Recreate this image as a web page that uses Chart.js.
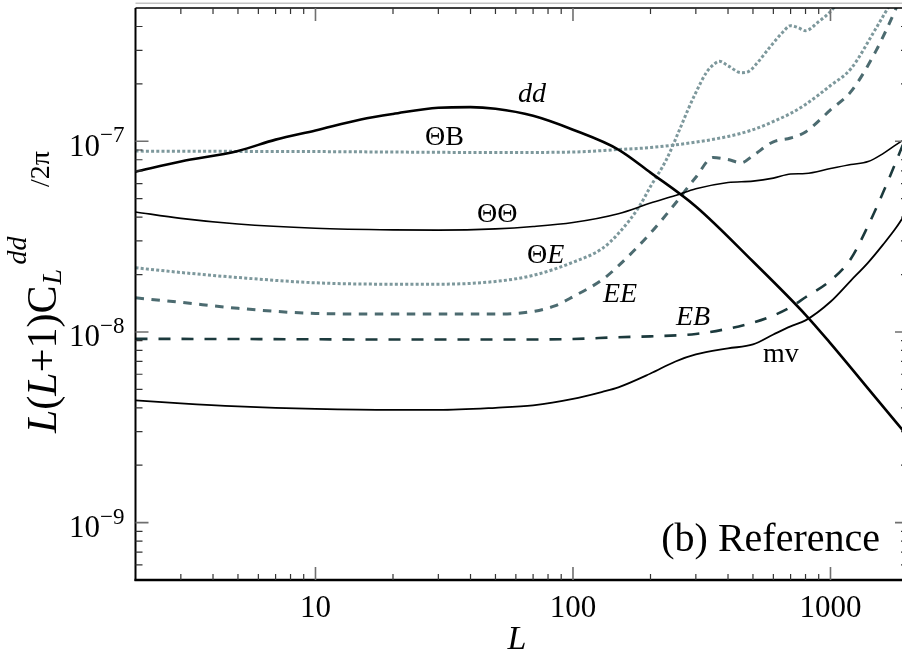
<!DOCTYPE html>
<html>
<head>
<meta charset="utf-8">
<script src="https://cdn.jsdelivr.net/npm/chart.js@4.4.0/dist/chart.umd.min.js"></script>
<style>
html, body { margin: 0; padding: 0; overflow: hidden; background: #fff; }
#wrap { position: relative; width: 910px; height: 651px; }
</style>
</head>
<body>
<div id="wrap"><canvas id="chart"></canvas></div>
<script>
// multipole L and L(L+1)C_L^dd/2pi for each reconstruction
const ddL = [2, 3, 5, 7, 10, 15, 20, 30, 40, 50, 70, 100, 150, 200, 300, 500, 800, 1000, 1500, 2000];
const ddC = [6.93e-8, 7.83e-8, 8.9e-8, 1.02e-7, 1.14e-7, 1.30e-7, 1.39e-7, 1.50e-7, 1.51e-7, 1.48e-7, 1.36e-7, 1.15e-7, 9.05e-8, 6.85e-8, 4.55e-8, 2.34e-8, 1.23e-8, 8.71e-9, 4.51e-9, 2.83e-9];

const tbL = [2, 5, 10, 20, 50, 100, 150, 200, 300, 400, 500, 600, 700, 800, 1000, 1200, 1500, 1700, 2000];
const tbC = [8.88e-8, 8.85e-8, 8.83e-8, 8.78e-8, 8.73e-8, 8.78e-8, 9.05e-8, 9.27e-8, 9.9e-8, 1.06e-7, 1.15e-7, 1.27e-7, 1.40e-7, 1.56e-7, 1.96e-7, 2.40e-7, 3.9e-7, 5.2e-7, 7.5e-7];

const ttL = [2, 3, 5, 10, 20, 30, 50, 70, 100, 150, 200, 250, 300, 400, 500, 600, 700, 800, 1000, 1200, 1400, 1600, 1800, 2000];
const ttC = [4.26e-8, 3.94e-8, 3.68e-8, 3.50e-8, 3.43e-8, 3.42e-8, 3.47e-8, 3.57e-8, 3.75e-8, 4.17e-8, 4.74e-8, 5.19e-8, 5.63e-8, 6.08e-8, 6.18e-8, 6.41e-8, 6.73e-8, 6.77e-8, 7.19e-8, 7.55e-8, 7.83e-8, 8.62e-8, 9.6e-8, 1.05e-7];

const teL = [2, 3, 5, 10, 20, 30, 50, 70, 100, 130, 150, 180, 200, 230, 260, 280, 300, 330, 350, 370, 400, 450, 480, 520, 580, 650, 700, 750, 800, 900, 1000, 1200, 1500, 2000];
const teC = [2.17e-8, 2.05e-8, 1.93e-8, 1.81e-8, 1.78e-8, 1.78e-8, 1.84e-8, 1.98e-8, 2.32e-8, 2.74e-8, 3.28e-8, 4.50e-8, 5.79e-8, 7.96e-8, 1.16e-7, 1.47e-7, 1.80e-7, 2.30e-7, 2.51e-7, 2.63e-7, 2.49e-7, 2.29e-7, 2.32e-7, 2.58e-7, 3.10e-7, 3.71e-7, 4.04e-7, 3.94e-7, 3.80e-7, 4.24e-7, 4.79e-7, 6.5e-7, 9e-7, 1.3e-6];

const eeL = [2, 3, 5, 10, 20, 50, 70, 85, 100, 130, 150, 200, 250, 300, 350, 400, 450, 500, 600, 700, 800, 1000, 1200, 1500, 1800, 2000];
const eeC = [1.51e-8, 1.43e-8, 1.33e-8, 1.25e-8, 1.24e-8, 1.24e-8, 1.28e-8, 1.37e-8, 1.53e-8, 1.88e-8, 2.22e-8, 3.30e-8, 4.73e-8, 6.48e-8, 8.22e-8, 8.02e-8, 7.71e-8, 8.41e-8, 9.94e-8, 1.04e-7, 1.12e-7, 1.46e-7, 1.82e-7, 2.97e-7, 5.0e-7, 7.0e-7];

const ebL = [2, 5, 10, 20, 50, 100, 150, 200, 300, 400, 500, 600, 700, 800, 1000, 1200, 1400, 1600, 1800, 2000];
const ebC = [9.2e-9, 9.18e-9, 9.15e-9, 9.12e-9, 9.12e-9, 9.18e-9, 9.38e-9, 9.48e-9, 9.76e-9, 1.04e-8, 1.12e-8, 1.22e-8, 1.35e-8, 1.52e-8, 1.86e-8, 2.42e-8, 3.61e-8, 5.38e-8, 7.87e-8, 1.12e-7];

const mvL = [2, 3, 5, 10, 20, 30, 50, 70, 100, 130, 150, 200, 250, 300, 400, 500, 600, 700, 800, 1000, 1200, 1400, 1600, 1800, 2000];
const mvC = [4.38e-9, 4.22e-9, 4.07e-9, 3.95e-9, 3.90e-9, 3.90e-9, 4.00e-9, 4.12e-9, 4.45e-9, 4.85e-9, 5.12e-9, 6.05e-9, 7.0e-9, 7.62e-9, 8.2e-9, 8.6e-9, 9.7e-9, 1.07e-8, 1.15e-8, 1.44e-8, 1.86e-8, 2.31e-8, 2.87e-8, 3.53e-8, 4.38e-8];

// axis ticks
const xMajorTicks = [10, 100, 1000];
const xMinorTicks = [3, 4, 5, 6, 7, 8, 9, 20, 30, 40, 50, 60, 70, 80, 90, 200, 300, 400, 500, 600, 700, 800, 900];
const yMajorTicks = [1e-9, 1e-8, 1e-7];
const yTickExponents = ['\u22129', '\u22128', '\u22127'];
const yMinorTicks = [6e-10, 7e-10, 8e-10, 9e-10, 2e-9, 3e-9, 4e-9, 5e-9, 6e-9, 7e-9, 8e-9, 9e-9,
                     2e-8, 3e-8, 4e-8, 5e-8, 6e-8, 7e-8, 8e-8, 9e-8, 2e-7, 3e-7, 4e-7];

const serif = '"Liberation Serif", "Times New Roman", serif';
const lightSlate = '#7d989c';
const midSlate = '#4c6b70';
const darkSlate = '#1c3a3d';

function pts(Ls, Cs) {
    return Ls.map((l, i) => ({ x: l, y: Cs[i] }));
}

function drawRuns(ctx, runs, x, y, size) {
    let cx = x;
    runs.forEach(r => {
        ctx.font = (r.italic ? 'italic ' : '') + size + 'px ' + serif;
        ctx.fillText(r.t, cx, y);
        cx += ctx.measureText(r.t).width;
    });
    return cx - x;
}

const framePlugin = {
    id: 'frame',
    afterDraw(chart) {
        const ctx = chart.ctx;
        const a = chart.chartArea;
        const xs = chart.scales.x;
        const ys = chart.scales.y;
        ctx.save();
        ctx.lineCap = 'butt';

        // faint rule above the panel
        ctx.strokeStyle = '#c4c4c4';
        ctx.lineWidth = 1.5;
        ctx.beginPath(); ctx.moveTo(a.left, 3.3); ctx.lineTo(a.right, 3.3); ctx.stroke();

        // frame
        ctx.strokeStyle = '#000';
        ctx.lineWidth = 1.6;
        ctx.beginPath(); ctx.moveTo(a.left, a.top); ctx.lineTo(a.right, a.top); ctx.lineTo(a.right, a.bottom); ctx.stroke();
        ctx.lineWidth = 2;
        ctx.beginPath(); ctx.moveTo(a.left, a.top); ctx.lineTo(a.left, a.bottom + 1); ctx.stroke();
        ctx.lineWidth = 2.6;
        ctx.beginPath(); ctx.moveTo(a.left - 1, a.bottom); ctx.lineTo(a.right, a.bottom); ctx.stroke();

        // ticks pointing inward
        function xTick(v, len, col) {
            const px = xs.getPixelForValue(v);
            ctx.strokeStyle = col;
            ctx.beginPath();
            ctx.moveTo(px, a.bottom); ctx.lineTo(px, a.bottom - len);
            ctx.moveTo(px, a.top); ctx.lineTo(px, a.top + len);
            ctx.stroke();
        }
        function yTick(v, len, col) {
            const py = ys.getPixelForValue(v);
            ctx.strokeStyle = col;
            ctx.beginPath();
            ctx.moveTo(a.left, py); ctx.lineTo(a.left + len, py);
            ctx.moveTo(a.right, py); ctx.lineTo(a.right - len, py);
            ctx.stroke();
        }
        ctx.lineWidth = 1.2;
        xMinorTicks.forEach(v => xTick(v, 6, '#333'));
        yMinorTicks.forEach(v => yTick(v, 7, '#333'));
        ctx.lineWidth = 1.6;
        xMajorTicks.forEach(v => xTick(v, 13, '#6f6f6f'));
        yMajorTicks.forEach(v => yTick(v, 13, '#6f6f6f'));

        ctx.fillStyle = '#000';
        ctx.textBaseline = 'alphabetic';

        // x tick labels
        ctx.textAlign = 'center';
        ctx.font = '31px ' + serif;
        xMajorTicks.forEach(v => ctx.fillText(String(v), xs.getPixelForValue(v), 617));

        // y tick labels 10^n
        yMajorTicks.forEach((v, i) => {
            const py = ys.getPixelForValue(v);
            ctx.textAlign = 'right';
            ctx.font = '31px ' + serif;
            ctx.fillText('10', 100, py + 14.5);
            ctx.textAlign = 'left';
            ctx.font = '23px ' + serif;
            ctx.fillText(yTickExponents[i], 100, py + 1);
        });

        // x axis title
        ctx.textAlign = 'center';
        ctx.font = 'italic 34px ' + serif;
        ctx.fillText('L', 517, 649);

        // y axis title, rotated
        ctx.save();
        ctx.translate(56, 433);
        ctx.rotate(-Math.PI / 2);
        ctx.textAlign = 'left';
        const w = drawRuns(ctx, [
            { t: 'L', italic: true }, { t: '(' }, { t: 'L', italic: true }, { t: '+1)C' }
        ], 0, 0, 42);
        ctx.font = 'italic 28px ' + serif;
        ctx.fillText('L', w + 1, 5);
        ctx.fillText('dd', w + 21, -30);
        ctx.font = '28px ' + serif;
        ctx.fillText('/2\u03c0', 246, -7);
        ctx.restore();

        // curve labels
        ctx.textAlign = 'left';
        drawRuns(ctx, [{ t: 'dd', italic: true }], 518, 102, 28);
        drawRuns(ctx, [{ t: '\u0398B' }], 425, 145, 28);
        drawRuns(ctx, [{ t: '\u0398\u0398' }], 477, 222, 28);
        drawRuns(ctx, [{ t: '\u0398' }, { t: 'E', italic: true }], 527, 263, 28);
        drawRuns(ctx, [{ t: 'EE', italic: true }], 603, 302, 28);
        drawRuns(ctx, [{ t: 'EB', italic: true }], 676, 325, 28);
        drawRuns(ctx, [{ t: 'mv' }], 763, 362, 28);

        // panel tag
        ctx.textAlign = 'right';
        ctx.font = '40px ' + serif;
        ctx.fillText('(b) Reference', 880, 551);

        ctx.restore();
    }
};

const ctx = document.getElementById('chart').getContext('2d');
new Chart(ctx, {
    type: 'line',
    data: {
        datasets: [
            { label: 'dd', data: pts(ddL, ddC), borderColor: '#000', borderWidth: 2.6 },
            { label: 'ThetaTheta', data: pts(ttL, ttC), borderColor: '#000', borderWidth: 1.6 },
            { label: 'mv', data: pts(mvL, mvC), borderColor: '#000', borderWidth: 1.8 },
            { label: 'ThetaB', data: pts(tbL, tbC), borderColor: lightSlate, borderWidth: 3, borderDash: [3, 2.2] },
            { label: 'ThetaE', data: pts(teL, teC), borderColor: lightSlate, borderWidth: 3, borderDash: [3, 2.2] },
            { label: 'EE', data: pts(eeL, eeC), borderColor: midSlate, borderWidth: 3, borderDash: [8.5, 7.5] },
            { label: 'EB', data: pts(ebL, ebC), borderColor: darkSlate, borderWidth: 2.6, borderDash: [12, 11] }
        ]
    },
    options: {
        responsive: true,
        maintainAspectRatio: false,
        animation: false,
        devicePixelRatio: 1,
        events: [],
        layout: { padding: { left: 135.5, top: 8, right: 2, bottom: 71 } },
        elements: {
            point: { radius: 0 },
            line: { tension: 0, cubicInterpolationMode: 'monotone', fill: false }
        },
        scales: {
            x: { type: 'logarithmic', min: 2, max: 2000, display: false },
            y: { type: 'logarithmic', min: 5e-10, max: 5e-7, display: false }
        },
        plugins: {
            legend: { display: false },
            tooltip: { enabled: false }
        }
    },
    plugins: [framePlugin]
});
</script>
</body>
</html>
